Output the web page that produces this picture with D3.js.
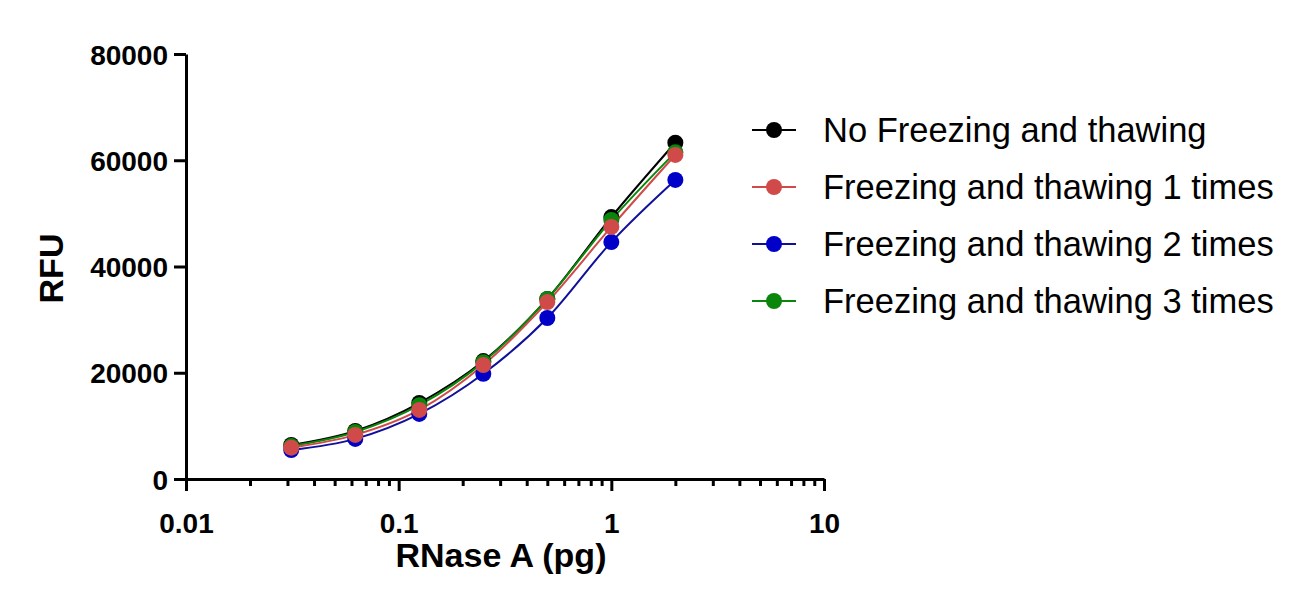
<!DOCTYPE html>
<html>
<head>
<meta charset="utf-8">
<script src="https://cdn.jsdelivr.net/npm/d3@7"></script>
<style>
  body { margin: 0; background: #fff; }
  svg { display: block; }
  text { font-family: "Liberation Sans", Arial, sans-serif; }
</style>
</head>
<body>
<svg id="chart" width="1305" height="608"></svg>
<script>
// ---- data ----
const doses = [0.03125, 0.0625, 0.125, 0.25, 0.5, 1, 2];
const seriesNames = [
  "No Freezing and thawing",
  "Freezing and thawing 1 times",
  "Freezing and thawing 2 times",
  "Freezing and thawing 3 times"
];
const noFreeze = [6400, 9050, 14300, 22200, 33900, 49300, 63300];
const freeze1  = [5900, 8300, 13000, 21450, 33300, 47450, 61000];
const freeze2  = [5450, 7550, 12250, 19800, 30300, 44600, 56300];
const freeze3  = [6200, 8850, 13900, 22000, 33900, 48750, 61500];
const seriesValues = [noFreeze, freeze1, freeze2, freeze3];
const seriesColors = ["#000000", "#d14a4a", "#0000c8", "#0a870a"];
const lineColors   = ["#000000", "#d14a4a", "#10109a", "#0a870a"];
const drawOrder = [0, 3, 2, 1];
const xMajorTicks = [0.01, 0.1, 1, 10];
const xTickLabels = ["0.01", "0.1", "1", "10"];
const yTicks = [0, 20000, 40000, 60000, 80000];
const yTickLabels = ["0", "20000", "40000", "60000", "80000"];
const xTitle = "RNase A (pg)";
const yTitle = "RFU";

// ---- layout ----
const svg = d3.select("#chart");
const L = 186, R = 824, T = 54, B = 479;

const x = d3.scaleLog().domain([0.01, 10]).range([L, R]);
const y = d3.scaleLinear().domain([0, 80000]).range([B, T]);

const minorTicks = [];
[0.01, 0.1, 1].forEach(d => { for (let k = 2; k <= 9; k++) minorTicks.push(d * k); });

// x minor ticks
svg.append("g")
  .attr("transform", `translate(0,${B})`)
  .call(d3.axisBottom(x).tickValues(minorTicks).tickSize(7).tickFormat(""))
  .call(g => g.select(".domain").remove())
  .call(g => g.selectAll("line").attr("stroke", "#000").attr("stroke-width", 3));

// x major axis
const xAxis = svg.append("g")
  .attr("transform", `translate(0,${B})`)
  .call(d3.axisBottom(x).tickValues(xMajorTicks).tickSize(12).tickSizeOuter(0)
        .tickFormat((d, i) => xTickLabels[i]));
xAxis.select(".domain").attr("stroke", "#000").attr("stroke-width", 3);
xAxis.selectAll("line").attr("stroke", "#000").attr("stroke-width", 3);
xAxis.selectAll("text")
  .attr("font-size", 28).attr("font-weight", "bold")
  .attr("fill", "#000").attr("dy", null).attr("y", 54);

// y axis
const yAxis = svg.append("g")
  .attr("transform", `translate(${L},0)`)
  .call(d3.axisLeft(y).tickValues(yTicks).tickSize(12).tickSizeOuter(0)
        .tickFormat((d, i) => yTickLabels[i]));
yAxis.select(".domain").attr("stroke", "#000").attr("stroke-width", 3);
yAxis.selectAll("line").attr("stroke", "#000").attr("stroke-width", 3);
yAxis.selectAll("text")
  .attr("font-size", 28).attr("font-weight", "bold")
  .attr("fill", "#000").attr("x", -18).attr("dy", "0.36em");

// titles
svg.append("text")
  .attr("x", (L + R) / 2 - 4).attr("y", 567)
  .attr("text-anchor", "middle")
  .attr("font-size", 34).attr("font-weight", "bold")
  .text(xTitle);

svg.append("text")
  .attr("transform", `translate(63,${(T + B) / 2 + 2}) rotate(-90)`)
  .attr("text-anchor", "middle")
  .attr("font-size", 34).attr("font-weight", "bold")
  .text(yTitle);

// lines and points
const line = d3.line()
  .x(d => x(d[0]))
  .y(d => y(d[1]))
  .curve(d3.curveMonotoneX);

drawOrder.forEach(si => {
  const pts = doses.map((d, i) => [d, seriesValues[si][i]]);
  svg.append("path")
    .datum(pts)
    .attr("fill", "none")
    .attr("stroke", lineColors[si])
    .attr("stroke-width", 2)
    .attr("d", line);
});
drawOrder.forEach(si => {
  const pts = doses.map((d, i) => [d, seriesValues[si][i]]);
  svg.append("g").selectAll("circle")
    .data(pts).join("circle")
    .attr("cx", d => x(d[0]))
    .attr("cy", d => y(d[1]))
    .attr("r", 8)
    .attr("fill", seriesColors[si]);
});

// legend
const legend = svg.append("g");
seriesNames.forEach((name, i) => {
  const cy = 130 + i * 57;
  legend.append("line")
    .attr("x1", 752).attr("x2", 796).attr("y1", cy).attr("y2", cy)
    .attr("stroke", lineColors[i]).attr("stroke-width", 2);
  legend.append("circle")
    .attr("cx", 774).attr("cy", cy).attr("r", 8)
    .attr("fill", seriesColors[i]);
  legend.append("text")
    .attr("x", 823).attr("y", cy + 12)
    .attr("font-size", 34.5)
    .attr("fill", "#000")
    .text(name);
});
</script>
</body>
</html>
